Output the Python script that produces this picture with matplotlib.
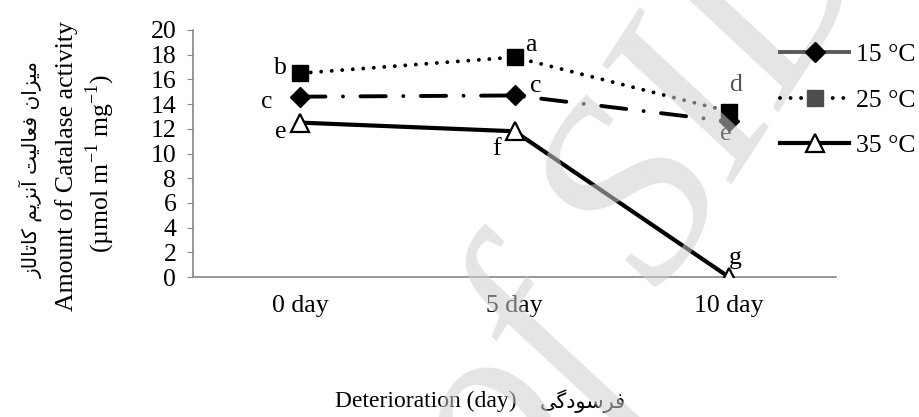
import matplotlib.pyplot as plt
from matplotlib.lines import Line2D

plt.rcParams['font.family'] = ['Liberation Serif', 'DejaVu Sans']
plt.rcParams['mathtext.fontset'] = 'custom'
plt.rcParams['mathtext.rm'] = 'Liberation Serif'

# data
days = ['0 day', '5 day', '10 day']
t15 = [14.6, 14.7, 12.6]
t25 = [16.5, 17.8, 13.4]
t35 = [12.5, 11.8, 0.0]
lab15 = ['c', 'c', 'e']
lab25 = ['b', 'a', 'd']
lab35 = ['e', 'f', 'g']
series_names = ['15 °C', '25 °C', '35 °C']
yticks = list(range(0, 21, 2))


def shape_rtl(chars):
    # chars are already in presentation forms, logical order -> visual order
    return ''.join(reversed(chars))


# میزان فعالیت آنزیم کاتالاز
fa_ylabel = shape_rtl(
    '\uFEE3\uFEF4\uFEB0\uFE8D\uFEE5' + ' ' +
    '\uFED3\uFECC\uFE8E\uFEDF\uFEF4\uFE96' + ' ' +
    '\uFE81\uFEE7\uFEB0\uFEF3\uFEE2' + ' ' +
    '\uFB90\uFE8E\uFE97\uFE8E\uFEDF\uFE8E\uFEAF')
# فرسودگی
fa_xlabel = shape_rtl('\uFED3\uFEAE\uFEB3\uFEEE\uFEA9\uFB94\uFEF0')

dashdot = (0, (6.5, 4.5, 0.01, 4.5))
dotted = (0, (0.01, 2.7))

fig = plt.figure(figsize=(9.2, 4.17), dpi=100)
ax = fig.add_axes([193 / 920, 1 - 277 / 417, 643 / 920, 247 / 417])

x = range(len(days))
ax.plot(x, t15, color='black', lw=2.8, linestyle=dashdot, dash_capstyle='round',
        marker='D', ms=10, mfc='black', mec='black', zorder=3)
ax.plot(x, t25, color='black', lw=2.8, linestyle=dotted, dash_capstyle='round',
        marker='s', ms=11, mfc='black', mec='black', zorder=3)
ax.plot(x, t35, color='black', lw=3, linestyle='-', solid_capstyle='round',
        marker='^', ms=13, mfc='white', mec='black', mew=1.6, zorder=4)

fs = 18.5
# letter annotations
ann = dict(textcoords='offset points', ha='center', va='center', fontsize=fs)
ax.annotate(lab25[0], (0, t25[0]), xytext=(-14, 4), **ann)
ax.annotate(lab25[1], (1, t25[1]), xytext=(11.5, 8.5), **ann)
ax.annotate(lab25[2], (2, t25[2]), xytext=(5, 19), color='#555555', **ann)
ax.annotate(lab15[0], (0, t15[0]), xytext=(-24, -3.5), **ann)
ax.annotate(lab15[1], (1, t15[1]), xytext=(15, 6.5), **ann)
ax.annotate(lab15[2], (2, t15[2]), xytext=(-2, -9), **ann)
ax.annotate(lab35[0], (0, t35[0]), xytext=(-14, -7), **ann)
ax.annotate(lab35[1], (1, t35[1]), xytext=(-13, -13), **ann)
ax.annotate(lab35[2], (2, t35[2]), xytext=(5, 14), **ann)

ax.set_xlim(-0.5, 2.5)
ax.set_ylim(0, 20)
ax.set_yticks(yticks)
ax.set_xticks(list(x))
ax.set_xticklabels(days)
ax.tick_params(axis='y', length=4, color='#868686', labelsize=fs, pad=8)
ax.tick_params(axis='x', length=0, labelsize=fs, pad=13)
for s in ['top', 'right']:
    ax.spines[s].set_visible(False)
ax.spines['left'].set_color('#868686')
ax.spines['bottom'].set_color('#868686')
ax.spines['left'].set_linewidth(1.2)
ax.spines['bottom'].set_linewidth(1.2)
ax.patch.set_alpha(0)

# y labels: three lines
fig.text(31 / 920, 1 - 170 / 417, fa_ylabel, rotation=90, ha='center', va='center',
         fontsize=14.5, family=['DejaVu Sans'])
fig.text(67 / 920, 1 - 166 / 417, 'Amount of Catalase activity', rotation=90,
         ha='center', va='center', fontsize=fs)
fig.text(100 / 920, 1 - 163 / 417, r'(µmol m$^{\mathregular{-1}}$ mg$^{\mathregular{-1}}$)',
         rotation=90, ha='center', va='center', fontsize=fs)

# x label
fig.text(335 / 920, 1 - 401 / 417, 'Deterioration (day)', ha='left', va='center', fontsize=17)
fig.text(626 / 920, 1 - 401 / 417, fa_xlabel, ha='right', va='center', fontsize=15,
         family=['DejaVu Sans'])

# legend
handles = [
    Line2D([], [], color='#595959', lw=2.8, linestyle='-', marker='D', ms=10,
           mfc='black', mec='black'),
    Line2D([], [], color='black', lw=2.8, linestyle=dotted, dash_capstyle='round', marker='s',
           ms=11, mfc='#4d4d4d', mec='#4d4d4d'),
    Line2D([], [], color='black', lw=3, linestyle='-', marker='^', ms=13,
           mfc='white', mec='black', mew=1.6),
]
leg = fig.legend(handles, series_names, loc='upper left', bbox_to_anchor=(757 / 920, 1 - 20 / 417),
                 frameon=False, fontsize=fs, handlelength=2.7, labelspacing=0.88,
                 handletextpad=0.25)
leg.set_zorder(11)

# watermark
fig.text(0.70, 0.52, 'of SID', rotation=57, ha='center', va='center', fontsize=190,
         style='italic', color='#cfcfcf', alpha=0.55, zorder=10)

fig.savefig('out.png', dpi=100)
